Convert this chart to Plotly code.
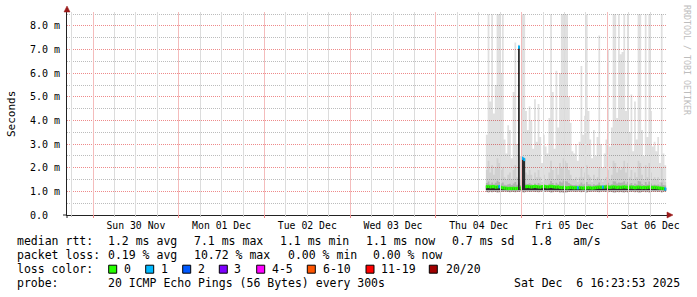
import math
import plotly.graph_objects as go
import pandas as pd

# ---------------- data (milliseconds) ----------------
# 30-minute consolidated bins starting Thu 04 Dec 14:00
bin_first = "2025-12-04 14:00"
bin_minutes = 30

smoke_max = [3.4, 8.5, 4.8, 8.5, 4.3, 5.5, 8.5, 8.5, 6.0, 8.5,
             3.2, 2.6, 3.8, 3.6, 2.4, 5.2, 7.3, 3.0, 7.2, 2.5,
             8.5, 8.5, 4.4, 3.6, 4.6, 4.0, 2.8, 4.9, 3.1, 4.7,
             3.3, 2.2, 3.4, 2.9, 2.6, 4.1, 8.5, 5.2, 2.8, 6.1,
             3.7, 6.0, 8.5, 8.5, 8.5, 8.5, 5.0, 3.9, 2.7, 2.6,
             3.0, 2.3, 3.1, 6.3, 3.4, 4.2, 8.5, 4.4, 3.2, 2.4,
             3.6, 2.5, 3.3, 7.6, 3.0, 2.0, 2.6, 3.2, 7.0, 2.9,
             3.7, 8.5, 8.5, 4.1, 8.5, 6.8, 6.9, 8.5, 4.4, 8.5,
             3.5, 5.1, 2.7, 4.8, 3.2, 8.5, 8.5, 3.6, 2.5, 8.5,
             3.3, 8.5, 4.4, 2.9, 3.1, 2.7, 3.3, 2.2, 8.5, 2.6, 2.1]

smoke_mid = [1.9, 2.3, 1.8, 2.1, 1.7, 2.0, 2.4, 2.2, 1.9, 2.0,
             1.6, 1.5, 1.7, 1.8, 1.5, 1.9, 2.1, 1.6, 2.0, 1.5,
             2.2, 2.4, 1.8, 1.7, 1.9, 1.7, 1.5, 1.8, 1.6, 1.9,
             1.6, 1.4, 1.7, 1.5, 1.5, 1.8, 2.3, 1.9, 1.5, 2.0,
             1.7, 2.2, 2.0, 2.4, 2.3, 2.2, 1.9, 1.7, 1.5, 1.5,
             1.6, 1.4, 1.6, 2.0, 1.6, 1.8, 2.1, 1.7, 1.6, 1.4,
             1.7, 1.5, 1.6, 2.0, 1.5, 1.4, 1.5, 1.6, 1.9, 1.5,
             1.7, 2.3, 2.2, 1.8, 2.0, 1.9, 2.0, 2.3, 1.8, 2.2,
             1.6, 1.9, 1.5, 1.8, 1.6, 2.3, 2.2, 1.7, 1.5, 2.1,
             1.6, 2.2, 1.8, 1.5, 1.6, 1.5, 1.6, 1.4, 2.0, 1.5, 1.4]

smoke_q = [1.35, 1.42, 1.30, 1.38, 1.30, 1.36, 1.45, 1.40, 1.33, 1.38,
           1.28, 1.26, 1.30, 1.32, 1.27, 1.33, 1.40, 1.28, 1.36, 1.27,
           1.42, 1.45, 1.32, 1.30, 1.34, 1.30, 1.27, 1.33, 1.28, 1.35,
           1.29, 1.25, 1.30, 1.28, 1.27, 1.32, 1.44, 1.35, 1.27, 1.36,
           1.30, 1.42, 1.38, 1.46, 1.44, 1.42, 1.35, 1.30, 1.27, 1.27,
           1.28, 1.25, 1.29, 1.38, 1.29, 1.32, 1.40, 1.30, 1.29, 1.25,
           1.30, 1.27, 1.29, 1.37, 1.27, 1.25, 1.27, 1.29, 1.36, 1.27,
           1.30, 1.43, 1.42, 1.33, 1.37, 1.36, 1.38, 1.43, 1.32, 1.41,
           1.29, 1.35, 1.27, 1.33, 1.29, 1.44, 1.42, 1.30, 1.27, 1.40,
           1.29, 1.42, 1.33, 1.27, 1.29, 1.27, 1.29, 1.25, 1.38, 1.27, 1.25]

smoke_min = [0.97, 0.95, 0.98, 0.96, 0.98, 0.97, 0.95, 0.96, 0.98, 0.97,
             0.99, 0.98, 0.97, 0.96, 0.98, 0.97, 0.96, 0.98, 0.97, 0.99,
             0.96, 0.95, 0.98, 0.99, 0.97, 0.98, 0.99, 0.97, 0.98, 0.96,
             0.98, 0.99, 0.97, 0.98, 0.99, 0.97, 0.95, 0.96, 0.99, 0.97,
             0.98, 0.95, 0.96, 0.94, 0.95, 0.96, 0.97, 0.98, 0.99, 0.98,
             0.97, 0.99, 0.98, 0.96, 0.98, 0.97, 0.95, 0.98, 0.97, 0.99,
             0.98, 0.99, 0.97, 0.96, 0.98, 0.99, 0.98, 0.97, 0.96, 0.98,
             0.97, 0.95, 0.95, 0.97, 0.96, 0.97, 0.96, 0.95, 0.97, 0.95,
             0.98, 0.97, 0.99, 0.96, 0.98, 0.95, 0.95, 0.97, 0.99, 0.96,
             0.98, 0.95, 0.97, 0.99, 0.98, 0.99, 0.97, 0.99, 0.95, 0.98, 0.99]

median = [1.20, 1.21, 1.19, 1.20, 1.20, 1.18, 1.19, 1.20, 1.17, 1.15,
          1.14, 1.13, 1.12, 1.13, 1.12, 1.13, 1.12, 1.13, 7.10, 1.14,
          2.40, 2.35, 1.20, 1.21, 1.20, 1.19, 1.20, 1.21, 1.20, 1.19,
          1.18, 1.20, 1.21, 1.20, 1.19, 1.20, 1.21, 1.20, 1.19, 1.18,
          1.19, 1.17, 1.16, 1.17, 1.16, 1.15, 1.16, 1.17, 1.16, 1.15,
          1.16, 1.15, 1.16, 1.15, 1.14, 1.15, 1.15, 1.16, 1.15, 1.14,
          1.15, 1.16, 1.17, 1.18, 1.17, 1.18, 1.18, 1.19, 1.18, 1.17,
          1.18, 1.19, 1.18, 1.17, 1.18, 1.17, 1.18, 1.19, 1.18, 1.17,
          1.17, 1.18, 1.17, 1.16, 1.17, 1.18, 1.17, 1.16, 1.17, 1.16,
          1.17, 1.18, 1.17, 1.16, 1.17, 1.16, 1.15, 1.14, 1.13, 1.12, 1.10]

loss = [0, 0, 0, 0, 0, 0, 0, 1, 0, 0,
        0, 0, 0, 0, 0, 0, 0, 0, 1, 0,
        1, 1, 0, 0, 0, 0, 0, 0, 0, 0,
        0, 0, 0, 0, 0, 0, 0, 0, 0, 0,
        0, 0, 0, 0, 0, 0, 0, 0, 0, 0,
        0, 1, 0, 0, 0, 0, 0, 0, 0, 0,
        0, 0, 0, 0, 0, 1, 0, 0, 0, 0,
        0, 0, 0, 0, 0, 0, 0, 0, 0, 0,
        0, 0, 0, 0, 0, 0, 0, 0, 0, 0,
        0, 0, 0, 0, 0, 0, 0, 0, 0, 0, 1]

loss_upper = [0, 1, 2, 3, 5, 10, 19, 20]
loss_labels = ["0", "1", "2", "3", "4-5", "6-10", "11-19", "20/20"]
loss_colors = ["#26ff00", "#00b8ff", "#0059ff", "#7e00ff", "#ff00ff", "#ff5500", "#ff0000", "#a10000"]

y_tickvals = [0, 1, 2, 3, 4, 5, 6, 7, 8]
y_ticktext = ["0.0\u00a0\u00a0", "1.0 m", "2.0 m", "3.0 m", "4.0 m", "5.0 m", "6.0 m", "7.0 m", "8.0 m"]

stats_rtt = ["1.2 ms avg", "7.1 ms max", "1.1 ms min", "1.1 ms now", "0.7 ms sd", "1.8", "am/s"]
stats_loss = ["0.19 % avg", "10.72 % max", "0.00 % min", "0.00 % now"]
probe_text = "20 ICMP Echo Pings (56 Bytes) every 300s"
stamp_text = "Sat Dec  6 16:23:53 2025"

x_start = "2025-11-29 16:43:12"
x_end = "2025-12-06 16:43:12"

# ---------------- styling ----------------
FONT = "DejaVu Sans Mono"
MGRID = "#ee8a8a"
GRID = "#bcbcbc"
MGRID_V = "#f4bcbc"
GRID_V = "#dcdcdc"
AXIS = "#222222"
ARROW = "#9a1a1a"
L, T, W, H = 67, 12, 600, 203  # plot area in px


def px(xp):
    return (xp - L) / W


def py(yp):
    return (T + H - yp) / H


starts = pd.date_range(bin_first, periods=len(median), freq=f"{bin_minutes}min")
ends = starts + pd.Timedelta(minutes=bin_minutes)
step_x = list(starts) + [ends[-1]]


def step_y(vals):
    return list(vals) + [vals[-1]]


fig = go.Figure()


def band(lo, hi, color):
    fig.add_trace(go.Scatter(x=step_x, y=step_y(lo), mode="lines", line=dict(width=0, shape="hv"),
                             hoverinfo="skip"))
    fig.add_trace(go.Scatter(x=step_x, y=step_y(hi), mode="lines", line=dict(width=0, shape="hv"),
                             fill="tonexty", fillcolor=color, hoverinfo="skip"))


band(smoke_min, smoke_max, "rgba(0,0,0,0.12)")
band(smoke_min, smoke_mid, "rgba(0,0,0,0.07)")
band(smoke_min, smoke_q, "rgba(0,0,0,0.15)")
core_lo = [min(m, 1.12) - 0.06 for m in median]
core_hi = [m + 0.04 for m in median]
band(core_lo, core_hi, "rgba(20,20,20,0.88)")


def loss_class(v):
    for k, up in enumerate(loss_upper):
        if v <= up:
            return k
    return len(loss_upper) - 1


for k, col in enumerate(loss_colors):
    xs, ys = [], []
    for s, e, m, l in zip(starts, ends, median, loss):
        if loss_class(l) == k:
            xs += [s, e, None]
            ys += [m, m, None]
    if xs:
        fig.add_trace(go.Scatter(x=xs, y=ys, mode="lines", line=dict(color=col, width=3.3),
                                 hoverinfo="skip"))

annotations = []


def txt(s, xp, yp, size=11.5, color="#000000", angle=0, anchor="left"):
    annotations.append(dict(text=s, x=px(xp), y=py(yp), xref="paper", yref="paper",
                            xanchor=anchor, yanchor="middle", showarrow=False, borderpad=0,
                            textangle=angle, font=dict(family=FONT, size=size, color=color)))


txt("Seconds", 11, 114, size=11, angle=-90, anchor="center")
txt("RRDTOOL / TOBI OETIKER", 687, 60, size=8.3, color="#bdbdbd", angle=90, anchor="center")

row_y = [241.3, 254.7, 269.3, 283.0]
txt("median rtt:", 16, row_y[0])
for s, xp in zip(stats_rtt, [107.3, 193.3, 279.3, 365.3, 451.0, 529.7, 572.0]):
    txt(s, xp, row_y[0])
txt("packet loss:", 16, row_y[1])
for s, xp in zip(stats_loss, [107.3, 193.3, 286.7, 372.0]):
    txt(s, xp, row_y[1])
txt("loss color:", 16, row_y[2])
box_x = [108.7, 145.7, 182.7, 219.3, 256.7, 307.3, 366.0, 429.3]
lab_x = [123.3, 160.0, 196.7, 233.3, 270.7, 321.7, 380.3, 445.3]
shapes = []
for lab, col, bx, lx in zip(loss_labels, loss_colors, box_x, lab_x):
    shapes.append(dict(type="rect", xref="paper", yref="paper", x0=px(bx), x1=px(bx + 8),
                       y0=py(273.2), y1=py(265.2), fillcolor=col, line=dict(color="#000000", width=1)))
    txt(lab, lx, row_y[2])
txt("probe:", 16, row_y[3])
txt(probe_text, 107.3, row_y[3])
txt(stamp_text, 513, row_y[3])

# vertical time grid (rrdtool draws it on top of the graph), snapped to pixel centres
t0 = pd.Timestamp(x_start)
t1 = pd.Timestamp(x_end)
for t in pd.date_range("2025-11-29 18:00", "2025-12-06 12:00", freq="6h"):
    frac = (t - t0) / (t1 - t0)
    xc = math.floor(L + frac * W + 0.02) + 0.5
    major = t.hour == 0
    col = MGRID_V if major else GRID_V
    tcol = MGRID if major else GRID
    shapes.append(dict(type="line", xref="paper", yref="paper", x0=px(xc), x1=px(xc), y0=0, y1=1,
                       line=dict(color=col, width=1), layer="above"))
    shapes.append(dict(type="line", xref="paper", yref="paper", x0=px(xc), x1=px(xc),
                       ysizemode="pixel", yanchor=0, y0=-3 if major else -2, y1=0,
                       line=dict(color=tcol, width=1), layer="above"))

# axis extensions and arrows
shapes.append(dict(type="line", xref="paper", yref="paper", xsizemode="pixel", xanchor=0,
                   x0=-4, x1=0, y0=0, y1=0, line=dict(color=AXIS, width=1)))
shapes.append(dict(type="line", xref="paper", yref="paper", ysizemode="pixel", yanchor=0,
                   x0=0, x1=0, y0=-3, y1=0, line=dict(color=AXIS, width=1)))
shapes.append(dict(type="path", xref="paper", yref="paper", xsizemode="pixel", ysizemode="pixel",
                   xanchor=1, yanchor=0, path="M 0,-3 L 6,0 L 0,3 Z",
                   fillcolor=ARROW, line=dict(color=ARROW, width=0.5)))
shapes.append(dict(type="path", xref="paper", yref="paper", xsizemode="pixel", ysizemode="pixel",
                   xanchor=0, yanchor=1, path="M -3,0 L 3,0 L 0,6 Z",
                   fillcolor=ARROW, line=dict(color=ARROW, width=0.5)))

fig.update_layout(
    width=697, height=297,
    margin=dict(l=L, r=697 - L - W, t=T, b=297 - T - H, pad=0),
    paper_bgcolor="#ffffff", plot_bgcolor="#ffffff",
    showlegend=False,
    font=dict(family=FONT, size=10, color="#000000"),
    annotations=annotations,
    shapes=shapes,
    xaxis=dict(
        type="date", range=[x_start, x_end],
        tickmode="linear", tick0="2025-11-30 00:00", dtick=86400000,
        tickformat="%a %d %b", ticklabelmode="period",
        tickfont=dict(family=FONT, size=9.8, color="#000000"),
        showgrid=False, ticks="", ticklabelstandoff=1,
        showline=True, linecolor=AXIS, linewidth=1, zeroline=False,
        fixedrange=True,
    ),
    yaxis=dict(
        range=[0, 8.59],
        tickmode="array", tickvals=y_tickvals, ticktext=y_ticktext,
        tickfont=dict(family=FONT, size=10, color="#000000"),
        showgrid=True, gridcolor=MGRID, griddash="1px,1px", gridwidth=1,
        ticks="outside", ticklen=4, tickcolor="rgba(0,0,0,0)",
        showline=True, linecolor=AXIS, linewidth=1, zeroline=False,
        minor=dict(dtick=0.5, tick0=0, showgrid=True, gridcolor=GRID, griddash="1px,1px", gridwidth=1),
        fixedrange=True,
    ),
)

fig.write_html("out.html")
